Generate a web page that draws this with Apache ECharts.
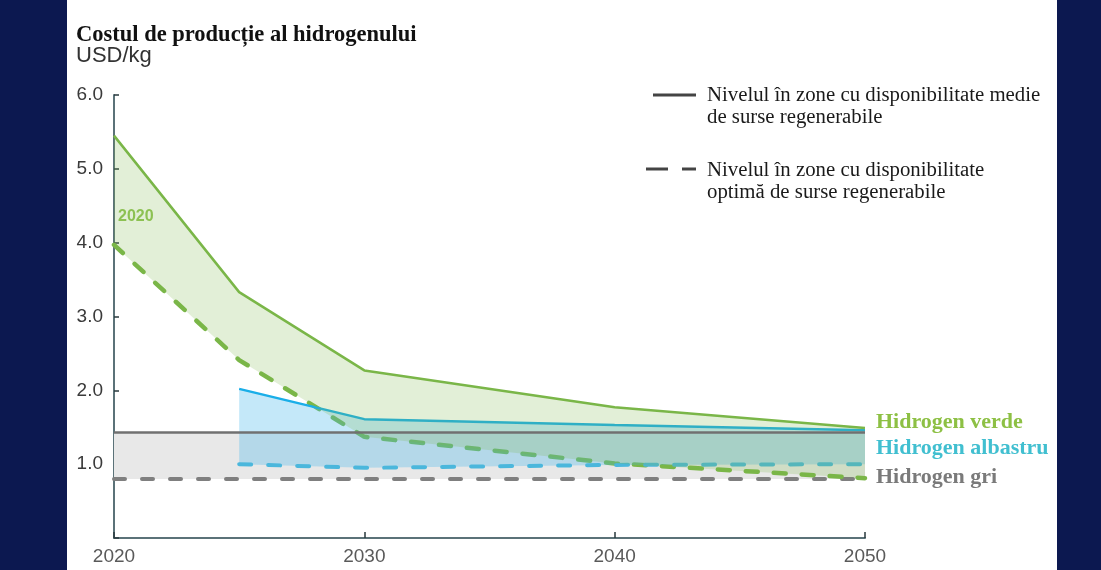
<!DOCTYPE html>
<html>
<head>
<meta charset="utf-8">
<script src="https://cdn.jsdelivr.net/npm/echarts@6/dist/echarts.min.js"></script>
<style>
html,body{margin:0;padding:0;background:#fff;}
#chart{width:1101px;height:570px;}
</style>
</head>
<body>
<div id="chart"></div>
<script>
// ---- data ----
const years = [2020, 2025, 2030, 2040, 2050];
const greenAvg = [5.45, 3.33, 2.27, 1.77, 1.49];
const greenOpt = [3.97, 2.41, 1.37, 1.01, 0.81];
const blueYears = [2025, 2030, 2040, 2050];
const blueAvg = [2.02, 1.61, 1.53, 1.46];
const blueOpt = [1.00, 0.95, 0.99, 1.00];
const greyYears = [2020, 2050];
const greyAvg = [1.43, 1.43];
const greyOpt = [0.80, 0.80];
const yTicks = [0, 1, 2, 3, 4, 5, 6];
const xTicks = [2020, 2030, 2040, 2050];

const title = 'Costul de producție al hidrogenului';
const unit = 'USD/kg';
const legendSolid = ['Nivelul în zone cu disponibilitate medie', 'de surse regenerabile'];
const legendDashed = ['Nivelul în zone cu disponibilitate', 'optimă de surse regenerabile'];
const seriesNames = ['Hidrogen verde', 'Hidrogen albastru', 'Hidrogen gri'];

const pairs = (xs, ys) => xs.map((x, i) => [x, ys[i]]);

function band(name, xs, up, lo, fill, z) {
  return {
    name: name, type: 'custom', z: z, silent: true,
    data: [[xs[0], lo[0]]],
    encode: {x: 0, y: 1},
    renderItem: function (params, api) {
      const pts = [];
      for (let i = 0; i < xs.length; i++) pts.push(api.coord([xs[i], up[i]]));
      for (let i = xs.length - 1; i >= 0; i--) pts.push(api.coord([xs[i], lo[i]]));
      return {type: 'polygon', shape: {points: pts}, style: {fill: fill}};
    }
  };
}
function line(name, xs, ys, color, width, dash, z) {
  return {
    name: name, type: 'line', z: z, silent: true, symbol: 'none',
    data: pairs(xs, ys),
    lineStyle: {color: color, width: width, type: dash || 'solid', cap: dash ? 'round' : 'butt'}
  };
}

const chart = echarts.init(document.getElementById('chart'));
const serif = 'Liberation Serif, Times New Roman, serif';
const sans = 'Liberation Sans, Arial, sans-serif';

chart.setOption({
  animation: false,
  backgroundColor: '#ffffff',
  grid: {left: 114, right: 236, top: 95, bottom: 32},
  xAxis: {
    type: 'value', min: 2020, max: 2050, interval: 10,
    axisLine: {show: true, lineStyle: {color: '#5b7278', width: 2}},
    axisTick: {show: true, inside: true, length: 6, lineStyle: {color: '#2a3a3e', width: 1.5}},
    splitLine: {show: false},
    axisLabel: {color: '#5a5a5a', fontSize: 19, fontFamily: sans, margin: 9,
      formatter: v => String(v)}
  },
  yAxis: {
    type: 'value', min: 0, max: 6, interval: 1,
    axisLine: {show: true, lineStyle: {color: '#5b7278', width: 2}},
    axisTick: {show: true, inside: true, length: 5, lineStyle: {color: '#2a3a3e', width: 1.5}},
    splitLine: {show: false},
    axisLabel: {color: '#3a3a3a', fontSize: 19, fontFamily: sans, margin: 11,
      formatter: v => (v === 0 ? '' : v.toFixed(1))}
  },
  series: [
    band('grey band', greyYears, greyAvg, greyOpt, '#e8e8e8', 1),
    line('grey opt', greyYears, greyOpt, '#7f7f7f', 4, [11, 17], 2),
    line('green opt', years, greenOpt, '#7ab648', 4.5, [12, 16], 3),
    band('blue band', blueYears, blueAvg, blueOpt, 'rgba(70,185,235,0.32)', 4),
    line('blue opt', blueYears, blueOpt, '#4bb7dc', 4, [12, 17], 5),
    line('blue avg', blueYears, blueAvg, '#1aaee8', 2.5, null, 5),
    band('green band', years, greenAvg, greenOpt, 'rgba(122,182,72,0.22)', 6),
    line('green avg', years, greenAvg, '#7ab648', 2.5, null, 7),
    line('grey avg', greyYears, greyAvg, '#707070', 2.5, null, 8)
  ],
  graphic: [
    {type: 'rect', left: 0, top: 0, shape: {width: 67, height: 570}, style: {fill: '#0c1850'}, z: 100},
    {type: 'rect', left: 1057, top: 0, shape: {width: 44, height: 570}, style: {fill: '#0c1850'}, z: 100},
    {type: 'text', x: 76, y: 35, z: 100, style: {text: title, fill: '#111', font: 'bold 22.5px ' + serif, textVerticalAlign: 'middle'}},
    {type: 'text', x: 76, y: 56, z: 100, style: {text: unit, fill: '#333', font: '22px ' + sans, textVerticalAlign: 'middle'}},
    {type: 'text', x: 118, y: 217, z: 100, style: {text: '2020', fill: '#8cc152', font: 'bold 16px ' + sans, textVerticalAlign: 'middle'}},
    {type: 'line', z: 100, shape: {x1: 653, y1: 95, x2: 696, y2: 95}, style: {stroke: '#444', lineWidth: 3}},
    {type: 'line', z: 100, shape: {x1: 646, y1: 169, x2: 668, y2: 169}, style: {stroke: '#444', lineWidth: 3}},
    {type: 'line', z: 100, shape: {x1: 682, y1: 169, x2: 696, y2: 169}, style: {stroke: '#444', lineWidth: 3}},
    {type: 'text', x: 707, y: 96, z: 100, style: {text: legendSolid[0], fill: '#1a1a1a', font: '20.8px ' + serif, textVerticalAlign: 'middle'}},
    {type: 'text', x: 707, y: 118, z: 100, style: {text: legendSolid[1], fill: '#1a1a1a', font: '20.8px ' + serif, textVerticalAlign: 'middle'}},
    {type: 'text', x: 707, y: 171, z: 100, style: {text: legendDashed[0], fill: '#1a1a1a', font: '20.8px ' + serif, textVerticalAlign: 'middle'}},
    {type: 'text', x: 707, y: 193, z: 100, style: {text: legendDashed[1], fill: '#1a1a1a', font: '20.8px ' + serif, textVerticalAlign: 'middle'}},
    {type: 'text', x: 876, y: 422, z: 100, style: {text: seriesNames[0], fill: '#8dc044', font: 'bold 22px ' + serif, textVerticalAlign: 'middle'}},
    {type: 'text', x: 876, y: 448, z: 100, style: {text: seriesNames[1], fill: '#41bfd0', font: 'bold 22px ' + serif, textVerticalAlign: 'middle'}},
    {type: 'text', x: 876, y: 477, z: 100, style: {text: seriesNames[2], fill: '#7a7a7a', font: 'bold 22px ' + serif, textVerticalAlign: 'middle'}}
  ]
});
</script>
</body>
</html>
